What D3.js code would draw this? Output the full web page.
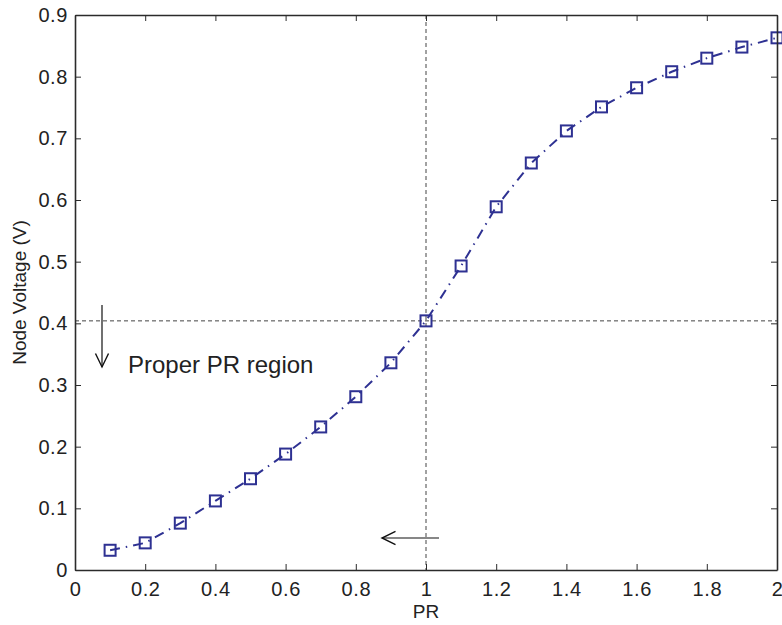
<!DOCTYPE html>
<html>
<head>
<meta charset="utf-8">
<script src="https://cdn.jsdelivr.net/npm/d3@7"></script>
<style>
body { margin: 0; background: #fff; }
svg { display: block; font-family: "Liberation Sans", Arial, sans-serif; }
</style>
</head>
<body>
<svg id="chart" width="782" height="625"></svg>
<script>
const prValues = [0.1, 0.2, 0.3, 0.4, 0.5, 0.6, 0.7, 0.8, 0.9, 1.0, 1.1, 1.2, 1.3, 1.4, 1.5, 1.6, 1.7, 1.8, 1.9, 2.0];
const voltageValues = [0.032, 0.044, 0.076, 0.112, 0.148, 0.188, 0.232, 0.281, 0.336, 0.404, 0.493, 0.589, 0.660, 0.712, 0.751, 0.782, 0.808, 0.830, 0.848, 0.863];
const xTicks = [0, 0.2, 0.4, 0.6, 0.8, 1, 1.2, 1.4, 1.6, 1.8, 2];
const yTicks = [0, 0.1, 0.2, 0.3, 0.4, 0.5, 0.6, 0.7, 0.8, 0.9];
const refX = 1.0;
const refY = 0.404;
const annotationText = "Proper PR region";

const svg = d3.select("#chart");
const m = {left: 75, right: 5, top: 15, bottom: 55};
const W = 782, H = 625;
const x = d3.scaleLinear().domain([0, 2]).range([m.left, W - m.right]);
const y = d3.scaleLinear().domain([0, 0.9]).range([H - m.bottom, m.top]);
const x0 = x.range()[0], x1 = x.range()[1], y0 = y.range()[0], y1 = y.range()[1];
const axisColor = "#2b2b2b";
const lineColor = "#2e3192";
const tickLen = 6;

// reference dashed lines
const g = svg.append("g");
g.append("line").attr("x1", x(refX)).attr("x2", x(refX)).attr("y1", y1).attr("y2", y0)
  .attr("stroke", "#444").attr("stroke-width", 1).attr("stroke-dasharray", "4,3");
g.append("line").attr("x1", x0).attr("x2", x1).attr("y1", y(refY)).attr("y2", y(refY))
  .attr("stroke", "#444").attr("stroke-width", 1).attr("stroke-dasharray", "4,3");

// data line
const data = prValues.map((v, i) => ({x: v, y: voltageValues[i]}));
const line = d3.line().x(d => x(d.x)).y(d => y(d.y)).curve(d3.curveLinear);
svg.append("path").datum(data).attr("d", line).attr("fill", "none")
  .attr("stroke", lineColor).attr("stroke-width", 2)
  .attr("stroke-dasharray", "10,6,1.5,6");

// markers
const ms = 11;
svg.selectAll("rect.mk").data(data).join("rect").attr("class", "mk")
  .attr("x", d => x(d.x) - ms / 2).attr("y", d => y(d.y) - ms / 2)
  .attr("width", ms).attr("height", ms)
  .attr("fill", "none").attr("stroke", lineColor).attr("stroke-width", 2);

// axes box with inward ticks
const axG = svg.append("g");
const xBottom = d3.axisBottom(x).tickValues(xTicks).tickFormat(d3.format("")).tickSizeInner(-tickLen).tickSizeOuter(0).tickPadding(12);
const xTop = d3.axisTop(x).tickValues(xTicks).tickFormat("").tickSizeInner(-tickLen).tickSizeOuter(0);
const yLeft = d3.axisLeft(y).tickValues(yTicks).tickFormat(d3.format("")).tickSizeInner(-tickLen).tickSizeOuter(0).tickPadding(7);
const yRight = d3.axisRight(y).tickValues(yTicks).tickFormat("").tickSizeInner(-tickLen).tickSizeOuter(0);

function styleAxis(sel) {
  sel.attr("font-size", null);
  sel.selectAll("path.domain").attr("stroke", axisColor).attr("stroke-width", 1.6);
  sel.selectAll(".tick line").attr("stroke", axisColor).attr("stroke-width", 1);
  sel.selectAll(".tick text").attr("fill", "#222").style("font-size", "20px")
    .style("letter-spacing", "0.6px").style("font-family", "Liberation Sans, Arial, sans-serif");
}
axG.append("g").attr("transform", `translate(0,${y0})`).call(xBottom).call(styleAxis);
axG.append("g").attr("transform", `translate(0,${y1})`).call(xTop).call(styleAxis);
axG.append("g").attr("transform", `translate(${x0},0)`).call(yLeft).call(styleAxis);
axG.append("g").attr("transform", `translate(${x1},0)`).call(yRight).call(styleAxis);

// axis labels
svg.append("text").attr("x", x(1)).attr("y", 618).attr("text-anchor", "middle")
  .style("font-size", "19px").attr("fill", "#222").text("PR");
svg.append("text").attr("transform", `translate(26,${(y0 + y1) / 2}) rotate(-90)`)
  .attr("text-anchor", "middle").style("font-size", "19px").attr("fill", "#222").text("Node Voltage (V)");

// annotations
svg.append("text").attr("x", 128).attr("y", 373).style("font-size", "24px").attr("fill", "#222").text(annotationText);

function arrow(xa, ya, xb, yb) {
  svg.append("line").attr("x1", xa).attr("y1", ya).attr("x2", xb).attr("y2", yb)
    .attr("stroke", "#111").attr("stroke-width", 1.2);
  const ang = Math.atan2(yb - ya, xb - xa);
  const L = 15, spread = 0.45;
  const p = [
    [xb - L * Math.cos(ang - spread), yb - L * Math.sin(ang - spread)],
    [xb, yb],
    [xb - L * Math.cos(ang + spread), yb - L * Math.sin(ang + spread)]
  ];
  svg.append("path").attr("d", d3.line()(p)).attr("fill", "none").attr("stroke", "#111").attr("stroke-width", 1.4);
}
arrow(102, 305, 102, 367);
arrow(439, 538, 382, 538);
</script>
</body>
</html>
